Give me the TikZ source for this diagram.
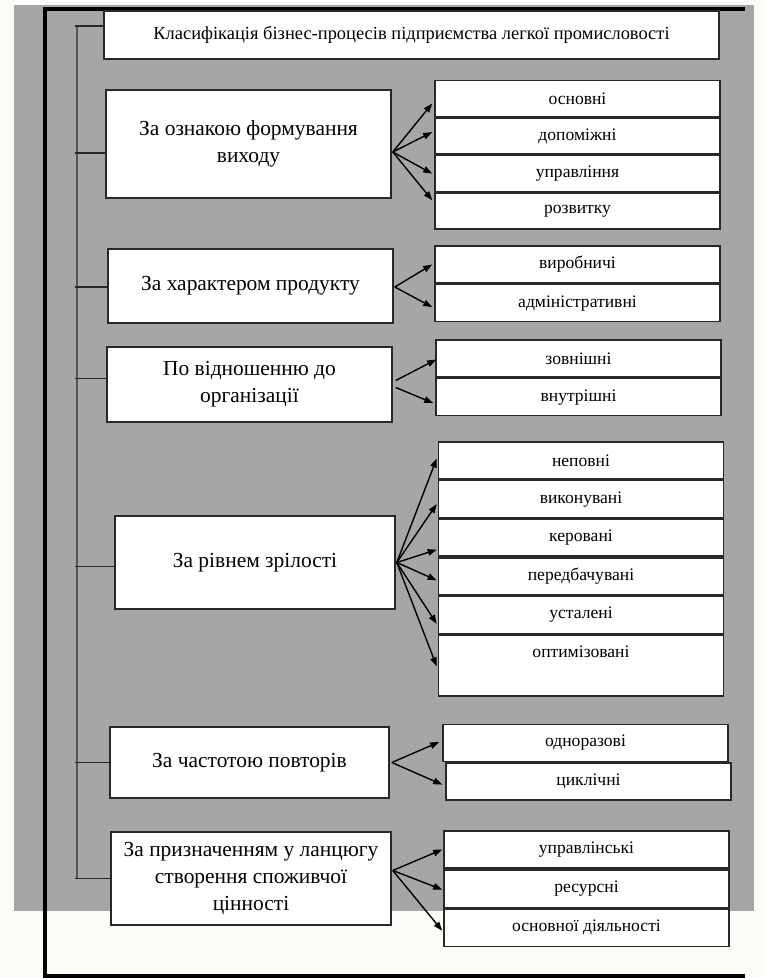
\documentclass[tikz,border=0pt]{standalone}
\usepackage{fontspec}
\setmainfont{Liberation Serif}
\usepackage{tikz}
\usetikzlibrary{
  arrows.meta,
  calc,
  positioning
}
\definecolor{panelgray}{RGB}{166,166,166}
\definecolor{pagewhite}{RGB}{251,251,247}
\definecolor{inkgray}{RGB}{40,40,40}
\definecolor{trunkgray}{RGB}{85,85,85}
\tikzset{
  headbox/.style={draw=inkgray,line width=0.9pt,fill=white,inner sep=2pt,
    minimum width=123mm,minimum height=9.6mm,font=\fontsize{10.5}{12.6}\selectfont},
  classbox/.style={draw=inkgray,line width=0.9pt,fill=white,align=center,
    inner sep=2pt,minimum width=57mm,font=\fontsize{12.2}{15.3}\selectfont},
  kindbox/.style={draw=inkgray,line width=0.9pt,fill=white,align=center,
    inner sep=2pt,minimum width=57mm,minimum height=7.4mm,
    font=\fontsize{10}{12}\selectfont},
  fanflow/.style={-{Triangle[length=1.8mm,width=1.3mm]},line width=0.8pt,draw=black},
  trunkline/.style={line width=0.8pt,draw=trunkgray},
  branch/.style={line width=0.8pt,draw=inkgray}
}

\begin{document}
\begin{tikzpicture}[x=0.2mm,y=-0.2mm]
  \fill[pagewhite] (0,0) rectangle (764,978);
  \fill[panelgray] (14,5) rectangle (754,911);
  \draw[line width=0.8mm] (745,9) -- (45,9) -- (45,976) -- (745,976);

  \node[headbox] (title) at (411.5,35)
    {Класифікація бізнес-процесів підприємства легкої промисловості};

  \node[classbox,minimum height=21.6mm] (m1) at (248.5,144)
    {За ознакою формування\\виходу};
  \node[classbox,minimum height=14.8mm] (m2) at (250.5,286)
    {За характером продукту};
  \node[classbox,minimum height=15mm] (m3) at (249.5,384.5)
    {По відношенню до\\організації};
  \node[classbox,minimum width=56mm,minimum height=18.6mm] (m4) at (255,562.5)
    {За рівнем зрілості};
  \node[classbox,minimum width=55.8mm,minimum height=14.2mm] (m5) at (249.5,762.5)
    {За частотою повторів};
  \node[classbox,minimum width=56mm,minimum height=18.6mm] (m6) at (251,878.5)
    {За призначенням у ланцюгу\\створення споживчої\\цінності};

  \node[kindbox,minimum height=7.2mm] (s11) at (577.5,98.5) {основні};
  \node[kindbox,minimum height=7.2mm,below=0pt of s11] (s12) {допоміжні};
  \node[kindbox,minimum height=7.2mm,below=0pt of s12] (s13) {управління};
  \node[kindbox,minimum height=7.2mm,below=0pt of s13] (s14) {розвитку};

  \node[kindbox] (s21) at (577.5,264.5) {виробничі};
  \node[kindbox,below=0pt of s21] (s22) {адміністративні};

  \node[kindbox] (s31) at (578.5,358.5) {зовнішні};
  \node[kindbox,below=0pt of s31] (s32) {внутрішні};

  \node[kindbox] (s41) at (581,460.5) {неповні};
  \node[kindbox,below=0pt of s41] (s42) {виконувані};
  \node[kindbox,below=0pt of s42] (s43) {керовані};
  \node[kindbox,below=0pt of s43] (s44) {передбачувані};
  \node[kindbox,below=0pt of s44] (s45) {усталені};
  \node[kindbox,below=0pt of s45,minimum height=12.2mm] (s46) {оптимізовані\\\strut};

  \node[kindbox] (s51) at (585.5,743) {одноразові};
  \node[kindbox,below=0pt of s51,xshift=0.6mm] (s52) {циклічні};

  \node[kindbox,minimum height=7.5mm] (s61) at (586.5,849.5) {управлінські};
  \node[kindbox,minimum height=7.5mm,below=0pt of s61] (s62) {ресурсні};
  \node[kindbox,minimum height=7.5mm,below=0pt of s62] (s63) {основної діяльності};

  \coordinate (trunktop) at (77,26);
  \coordinate (trunkbot) at (77,879);
  \draw[trunkline] (trunktop) -- (trunkbot);
  \foreach \b/\dy in {title/-9,m1/9,m2/1,m3/-6,m4/4,m5/0,m6/0}{
    \coordinate (tk) at ($(\b.west)+(0,\dy)$);
    \draw[branch] (tk) -- ($(tk -| trunktop)+(-2,0)$);
  }

  \foreach \s/\dy in {s11/5,s12/-4,s13/0,s14/-11}
    \draw[fanflow] ($(m1.east)+(1,8)$) -- ($(\s.west)+(-2,\dy)$);
  \foreach \s/\dy in {s21/0,s22/4}
    \draw[fanflow] ($(m2.east)+(1,1)$) -- ($(\s.west)+(-2,\dy)$);
  \draw[fanflow] ($(m3.east)+(3,-4)$) -- ($(s31.west)+(1,1)$);
  \draw[fanflow] ($(m3.east)+(3,3)$) -- ($(s32.west)+(-2,6)$);
  \foreach \s/\dy in {s41/-2,s42/5,s43/12,s44/4,s45/9,s46/1}
    \draw[fanflow] ($(m4.east)+(1,0)$) -- ($(\s.west)+(-1,\dy)$);
  \foreach \s/\dy in {s51/-1,s52/3}
    \draw[fanflow] ($(m5.east)+(2,0)$) -- ($(\s.west)+(-3,\dy)$);
  \foreach \s/\dy in {s61/0,s62/1,s63/3}
    \draw[fanflow] ($(m6.east)+(1,-8)$) -- ($(\s.west)+(-1,\dy)$);
\end{tikzpicture}
\end{document}
